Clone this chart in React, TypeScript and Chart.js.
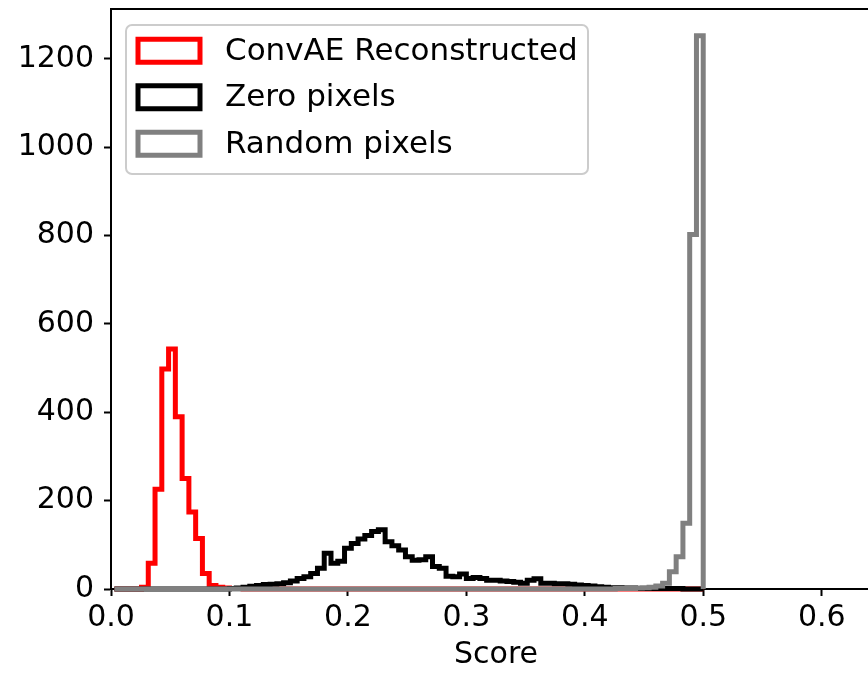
import React, { useEffect, useRef } from "react";
import { Chart, registerables } from "chart.js";

Chart.register(...registerables);

// Shared histogram bins (edges = BIN_START + k * BIN_WIDTH)
const BIN_START = 0.0029;
const BIN_WIDTH = 0.005713;
const BIN_COUNT = 87;

const seriesLabels = ["ConvAE Reconstructed", "Zero pixels", "Random pixels"];
const seriesColors = ["#ff0000", "#000000", "#808080"];

// counts per bin, starting at a given bin index (other bins are 0)
const redFirstBin = 4;
const redCounts = [4, 58, 226, 498, 543, 390, 250, 174, 114, 35, 8, 4, 2, 1, 1];

const blackFirstBin = 17;
const blackCounts = [
  1, 2, 4, 6, 8, 10, 11, 12, 14, 18, 24, 28, 35, 47, 81, 58, 63, 92, 103, 113,
  121, 130, 134, 107, 98, 88, 73, 65, 66, 73, 51, 47, 29, 28, 34, 24, 26, 24, 20, 20,
  18, 17, 15, 13, 20, 23, 13, 13, 12, 12, 11, 9, 8, 7, 5, 4, 3, 3, 2, 2,
  1, 1, 1, 1, 1, 1, 1, 0, 0, 0,
];

const grayFirstBin = 74;
const grayCounts = [1, 1, 1, 2, 3, 4, 7, 13, 39, 73, 149, 802, 1252];

const xTicksStep = 0.1;
const yTicksStep = 200;
const X_MIN = 0;
const X_MAX = 0.65;
const Y_MIN = 0;
const Y_MAX = 1312.5;

const FONT = '"DejaVu Sans", sans-serif';

function fullCounts(first: number, counts: number[]): number[] {
  const out: number[] = [];
  for (let i = 0; i < BIN_COUNT; i++) {
    const j = i - first;
    out.push(j >= 0 && j < counts.length ? counts[j] : 0);
  }
  return out;
}

function stepPoints(counts: number[]) {
  const pts: { x: number; y: number }[] = [];
  const edge = (k: number) => BIN_START + k * BIN_WIDTH;
  pts.push({ x: edge(0), y: 0 });
  counts.forEach((c, i) => {
    pts.push({ x: edge(i), y: c });
    pts.push({ x: edge(i + 1), y: c });
  });
  pts.push({ x: edge(counts.length), y: 0 });
  return pts;
}

const decorPlugin = {
  id: "decor",
  afterDraw(chart: any) {
    const { ctx, chartArea: a } = chart;
    ctx.save();
    // top & right spines
    ctx.strokeStyle = "#000";
    ctx.lineWidth = 2;
    ctx.beginPath();
    ctx.moveTo(a.left, a.top);
    ctx.lineTo(a.right, a.top);
    ctx.lineTo(a.right, a.bottom);
    ctx.stroke();

    // legend
    const lx = a.left + 15;
    const ly = a.top + 16;
    const lw = 462;
    const lh = 149;
    ctx.beginPath();
    if (ctx.roundRect) ctx.roundRect(lx, ly, lw, lh, 6);
    else ctx.rect(lx, ly, lw, lh);
    ctx.fillStyle = "rgba(255,255,255,0.8)";
    ctx.fill();
    ctx.strokeStyle = "#cccccc";
    ctx.lineWidth = 2;
    ctx.stroke();

    chart.data.datasets.forEach((ds: any, i: number) => {
      const cy = ly + 25.7 + i * 46.5;
      ctx.beginPath();
      ctx.rect(lx + 12, cy - 11.5, 62, 23);
      ctx.fillStyle = "#fff";
      ctx.fill();
      ctx.strokeStyle = ds.borderColor;
      ctx.lineWidth = 5;
      ctx.lineJoin = "miter";
      ctx.stroke();
      ctx.fillStyle = "#000";
      ctx.font = `31px ${FONT}`;
      ctx.textBaseline = "middle";
      ctx.textAlign = "left";
      ctx.fillText(ds.label, lx + 99, cy + 1);
    });
    ctx.restore();
  },
};

export default function App() {
  const ref = useRef<HTMLCanvasElement | null>(null);

  useEffect(() => {
    if (!ref.current) return;
    const all = [
      fullCounts(redFirstBin, redCounts),
      fullCounts(blackFirstBin, blackCounts),
      fullCounts(grayFirstBin, grayCounts),
    ];
    const orders = [2, 1, 0];
    const chart = new Chart(ref.current, {
      type: "line",
      data: {
        datasets: all.map((c, i) => ({
          label: seriesLabels[i],
          data: stepPoints(c),
          borderColor: seriesColors[i],
          backgroundColor: "transparent",
          borderWidth: 5,
          pointRadius: 0,
          tension: 0,
          fill: false,
          borderJoinStyle: "miter" as const,
          borderCapStyle: "butt" as const,
          clip: false as any,
          order: orders[i],
        })),
      },
      options: {
        responsive: false,
        animation: false,
        devicePixelRatio: 1,
        parsing: false as any,
        normalized: true,
        layout: { padding: { left: 0, right: 19, top: 9, bottom: 0 } },
        plugins: {
          legend: { display: false },
          tooltip: { enabled: false },
        },
        scales: {
          x: {
            type: "linear",
            min: X_MIN,
            max: X_MAX,
            z: 1,
            border: { display: true, color: "#000", width: 2 },
            grid: {
              drawOnChartArea: false,
              drawTicks: true,
              tickLength: 7,
              tickWidth: 2,
              tickColor: "#000",
              color: "#000",
            },
            ticks: {
              stepSize: xTicksStep,
              includeBounds: false,
              autoSkip: false,
              maxRotation: 0,
              color: "#000",
              padding: 4,
              font: { family: FONT, size: 30 },
              callback: (v: any) => Number(v).toFixed(1),
            },
            title: {
              display: true,
              text: "Score",
              color: "#000",
              font: { family: FONT, size: 30, lineHeight: 1.2 },
              padding: { top: 0, bottom: 1 },
            },
            afterFit: (s: any) => {
              s.height = 85;
              s.paddingLeft = 0;
              s.paddingRight = 0;
            },
          },
          y: {
            type: "linear",
            min: Y_MIN,
            max: Y_MAX,
            z: 1,
            border: { display: true, color: "#000", width: 2 },
            grid: {
              drawOnChartArea: false,
              drawTicks: true,
              tickLength: 7,
              tickWidth: 2,
              tickColor: "#000",
              color: "#000",
            },
            ticks: {
              stepSize: yTicksStep,
              includeBounds: false,
              color: "#000",
              padding: 10,
              font: { family: FONT, size: 30 },
              callback: (v: any) => String(Math.round(Number(v))),
            },
            afterFit: (s: any) => {
              s.width = 111;
              s.paddingTop = 0;
              s.paddingBottom = 0;
            },
          },
        },
      },
      plugins: [decorPlugin],
    });
    return () => chart.destroy();
  }, []);

  return (
    <div
      style={{
        position: "fixed",
        left: 0,
        top: 0,
        width: 868,
        height: 674,
        overflow: "hidden",
        background: "#fff",
      }}
    >
      <canvas
        ref={ref}
        width={900}
        height={674}
        style={{ display: "block", width: 900, height: 674 }}
      />
    </div>
  );
}
